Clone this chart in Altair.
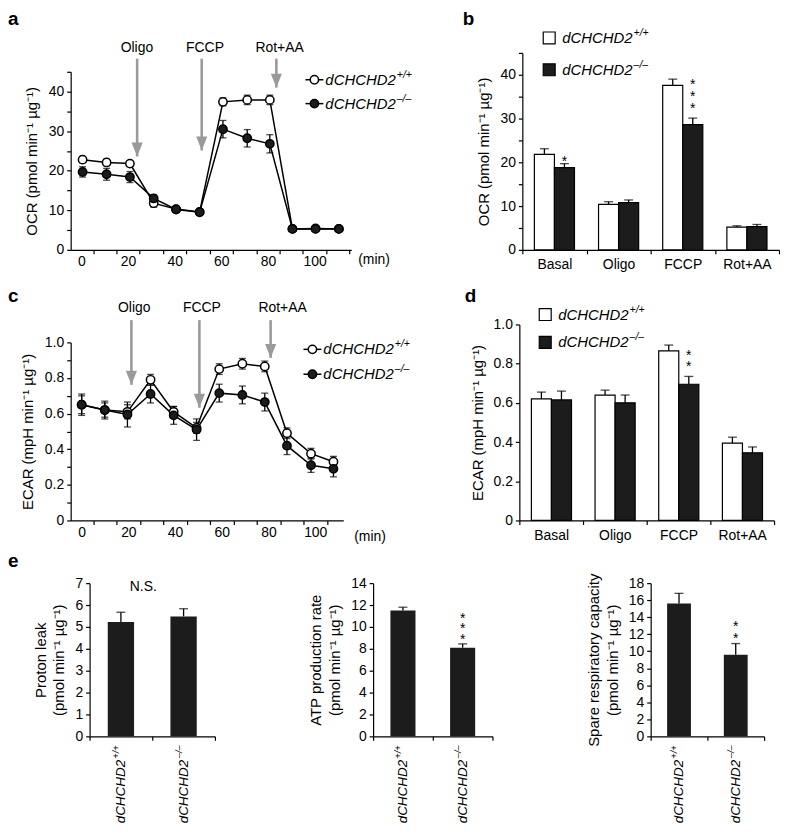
import altair as alt
import pandas as pd

FONT = "Liberation Sans"
GREY = "#9a9a9a"
DARK = "#1c1c1c"
NAME = "dCHCHD2"
GENO = ["+/+", "–/–"]
HEAD = "M-0.8,-2L0.8,-2L0,0Z"
YT = "pmol min⁻¹ µg⁻¹"
LFS = 14   # tick label size
TFS = 15   # axis title size

# ---------------- panel a: OCR time course ----------------
time_a = [0.5, 10.8, 20.8, 31.0, 40.6, 50.7, 60.7, 71.1, 80.8, 90.5, 100.4, 110.4]
ocr_wt = [22.8, 22.1, 21.8, 11.8, 10.3, 9.6, 37.4, 37.9, 37.9, 5.3, 5.4, 5.3]
ocr_wt_err = [0.8, 0.8, 0.7, 1.0, 0.5, 0.5, 1.0, 1.2, 1.2, 0.5, 0.4, 0.4]
ocr_ko = [19.7, 19.1, 18.4, 13.0, 10.2, 9.5, 30.5, 28.2, 26.8, 5.3, 5.3, 5.3]
ocr_ko_err = [1.3, 1.5, 1.4, 0.9, 0.5, 0.6, 2.2, 2.2, 2.3, 0.4, 0.4, 0.4]
injections = ["Oligo", "FCCP", "Rot+AA"]
inj_time_a = [23.9, 51.6, 83.6]
inj_label_time_a = [23.8, 53.0, 85.0]
inj_tip_a = [23.6, 25.1, 41.0]
inj_top_a = 48.3
inj_label_y_a = 51.1

# ---------------- panel c: ECAR time course ----------------
time_c = [0.0, 9.9, 19.6, 29.5, 39.4, 49.2, 58.9, 68.8, 78.4, 87.9, 98.2, 107.8]
ecar_wt = [0.65, 0.62, 0.61, 0.79, 0.61, 0.52, 0.85, 0.88, 0.865, 0.49, 0.375, 0.33]
ecar_wt_err = [0.05, 0.04, 0.04, 0.03, 0.03, 0.03, 0.03, 0.03, 0.03, 0.03, 0.03, 0.03]
ecar_ko = [0.65, 0.62, 0.595, 0.71, 0.59, 0.51, 0.715, 0.705, 0.665, 0.42, 0.31, 0.29]
ecar_ko_err = [0.06, 0.05, 0.07, 0.05, 0.05, 0.06, 0.05, 0.05, 0.05, 0.05, 0.04, 0.045]
inj_time_c = [21.3, 50.4, 80.9]
inj_label_time_c = [22.5, 51.5, 86.0]
inj_tip_c = [0.762, 0.633, 0.913]
inj_top_c = 1.125
inj_label_y_c = 1.192

# ---------------- panels b, d: bars ----------------
phases = ["Basal", "Oligo", "FCCP", "Rot+AA"]
ocr_bar_wt = [21.8, 10.4, 37.6, 5.2]
ocr_bar_wt_err = [1.3, 0.6, 1.4, 0.3]
ocr_bar_ko = [18.8, 10.8, 28.6, 5.3]
ocr_bar_ko_err = [0.9, 0.6, 1.5, 0.5]
ecar_bar_wt = [0.62, 0.64, 0.865, 0.395]
ecar_bar_wt_err = [0.035, 0.025, 0.03, 0.03]
ecar_bar_ko = [0.615, 0.60, 0.695, 0.345]
ecar_bar_ko_err = [0.045, 0.04, 0.04, 0.03]

# ---------------- panel e ----------------
proton_leak = [5.22, 5.48]
proton_leak_err = [0.45, 0.35]
atp_rate = [11.5, 8.1]
atp_rate_err = [0.3, 0.35]
spare_capacity = [15.6, 9.6]
spare_capacity_err = [1.2, 1.3]

ONE = pd.DataFrame({"k": [0]})

AX = dict(labelFontSize=LFS, titleFontSize=TFS, labelFont=FONT, titleFont=FONT,
          titleFontWeight="normal", grid=False, labelOverlap=False, labelFlush=False)


def text_at(x, y, text, size=14, align="left", baseline="middle", **kw):
    return alt.Chart(ONE).mark_text(
        text=text, font=FONT, fontSize=size, align=align, baseline=baseline,
        color="black", **kw
    ).encode(x=alt.value(x), y=alt.value(y))


def geno_text(x, y, sup, size=15):
    w = 4.722 * size
    return [
        text_at(x, y, NAME, size, fontStyle="italic"),
        text_at(x + w + 1, y - 5, sup, round(size * 0.7, 1), fontStyle="italic"),
    ]


def letter(x, y, ch):
    return text_at(x, y, ch, 19, baseline="top", fontWeight="bold")


def spacer(y):
    return text_at(0, y, "x", 10, baseline="top", opacity=0)


def star_layers(base, X, XO, Y, dys):
    out = []
    for dy in dys:
        enc = dict(x=X, y=Y)
        if XO is not None:
            enc["xOffset"] = XO
        out.append(base.mark_text(text="*", font=FONT, fontSize=14, align="center",
                                  baseline="middle", dy=dy, color="black").encode(**enc))
    return out


def line_panel(times, wt, wt_err, ko, ko_err, *, width, height, xdom, xmax_tick,
               ydom, yrange, yvals, yexpr, ytitle, inj_t, inj_lt, inj_tip,
               inj_top, inj_ly, leg_x, leg_y, min_xy, let, extra=()):
    n = len(times)
    df = pd.DataFrame({
        "time": times + times,
        "value": wt + ko,
        "err": wt_err + ko_err,
        "geno": [GENO[0]] * n + [GENO[1]] * n,
    })
    df["lo"] = df["value"] - df["err"]
    df["hi"] = df["value"] + df["err"]
    xs = alt.Scale(domain=xdom, nice=False, zero=False)
    ys = alt.Scale(domain=ydom, range=yrange, nice=False, zero=False)
    xaxis = alt.Axis(
        values=list(range(0, xmax_tick + 1, 5)),
        labelExpr="datum.value % 20 === 0 ? datum.label : ''",
        tickOpacity={"condition": {"test": "datum.value % 10 === 5", "value": 1}, "value": 0},
        title=None, labelPadding=1, **AX,
    )
    yaxis = alt.Axis(values=yvals, labelExpr=yexpr, title=ytitle, titlePadding=9, **AX)

    def X(f):
        return alt.X(f, scale=xs, axis=xaxis)

    def Y(f):
        return alt.Y(f, scale=ys, axis=yaxis)

    base = alt.Chart(df)
    lines = base.mark_line(color="black", strokeWidth=1.5).encode(
        x=X("time:Q"), y=Y("value:Q"), detail="geno:N", order="time:Q")
    err = base.mark_rule(color="black", strokeWidth=1.3).encode(
        x=X("time:Q"), y=Y("lo:Q"), y2="hi:Q")
    cap_lo = base.mark_tick(orient="horizontal", color="black", size=7, thickness=1.3).encode(
        x=X("time:Q"), y=Y("lo:Q"))
    cap_hi = base.mark_tick(orient="horizontal", color="black", size=7, thickness=1.3).encode(
        x=X("time:Q"), y=Y("hi:Q"))
    pts_wt = base.transform_filter(alt.datum.geno == GENO[0]).mark_point(
        shape="circle", filled=True, fill="white", stroke="black", strokeWidth=1.5,
        size=70, opacity=1).encode(x=X("time:Q"), y=Y("value:Q"))
    pts_ko = base.transform_filter(alt.datum.geno == GENO[1]).mark_point(
        shape="circle", filled=True, fill=DARK, stroke="black", strokeWidth=1.5,
        size=70, opacity=1).encode(x=X("time:Q"), y=Y("value:Q"))

    arr = pd.DataFrame({"label": injections, "t": inj_t, "lt": inj_lt, "tip": inj_tip})
    arr["top"] = inj_top
    arr["ly"] = inj_ly
    ab = alt.Chart(arr)
    a_rule = ab.mark_rule(color=GREY, strokeWidth=2.6).encode(
        x=X("t:Q"), y=Y("top:Q"), y2="tip:Q")
    a_head = ab.mark_point(shape=HEAD, size=196, filled=True, color=GREY, opacity=1,
                           strokeWidth=0).encode(x=X("t:Q"), y=Y("tip:Q"))
    a_lab = ab.mark_text(font=FONT, fontSize=14, align="center", baseline="middle",
                         color="black").encode(x=X("lt:Q"), y=Y("ly:Q"), text="label:N")

    legend = []
    for yy, fill, sup in [(leg_y[0], "white", GENO[0]), (leg_y[1], DARK, GENO[1])]:
        legend.append(alt.Chart(ONE).mark_rule(color="black", strokeWidth=1.5).encode(
            x=alt.value(leg_x - 9), x2=alt.value(leg_x + 9), y=alt.value(yy)))
        legend.append(alt.Chart(ONE).mark_point(
            shape="circle", filled=True, fill=fill, stroke="black", strokeWidth=1.5,
            size=70, opacity=1).encode(x=alt.value(leg_x), y=alt.value(yy)))
        legend += geno_text(leg_x + 11, yy, sup)

    layers = [lines, err, cap_lo, cap_hi, pts_wt, pts_ko, a_rule, a_head, a_lab] + legend + [
        text_at(min_xy[0], min_xy[1], "(min)"),
        letter(let[0], let[1], let[2]),
    ] + list(extra)
    return alt.layer(*layers).properties(width=width, height=height)


def bar_panel(wt, wt_err, ko, ko_err, *, width, height, ydom, yvals, yexpr, ytitle,
              stars, leg_x, leg_y, let):
    k = len(phases)
    df = pd.DataFrame({
        "phase": phases * 2,
        "geno": [GENO[0]] * k + [GENO[1]] * k,
        "value": wt + ko,
        "err": wt_err + ko_err,
    })
    df["hi"] = df["value"] + df["err"]
    xsc = alt.Scale(domain=phases, paddingInner=0, paddingOuter=0)
    osc = alt.Scale(domain=GENO, paddingInner=0, paddingOuter=0.6)
    ys = alt.Scale(domain=ydom, nice=False, zero=True)
    xaxis = alt.Axis(tickBand="extent", labelAngle=0, title=None, labelPadding=4, **AX)
    yaxis = alt.Axis(values=yvals, labelExpr=yexpr, title=ytitle, titlePadding=8, **AX)
    XO = alt.XOffset("geno:N", scale=osc)
    Xc = alt.X("phase:N", scale=xsc, axis=xaxis)

    def Y(f):
        return alt.Y(f, scale=ys, axis=yaxis, stack=None)

    base = alt.Chart(df)
    bars = base.mark_bar(stroke="black", strokeWidth=1.2).encode(
        x=Xc, xOffset=XO, y=Y("value:Q"),
        fill=alt.Fill("geno:N", scale=alt.Scale(domain=GENO, range=["white", DARK]), legend=None))
    err = base.mark_rule(color="black", strokeWidth=1.3).encode(
        x=Xc, xOffset=XO, y=Y("value:Q"), y2="hi:Q")
    cap = base.mark_tick(orient="horizontal", color="black", size=9, thickness=1.3).encode(
        x=Xc, xOffset=XO, y=Y("hi:Q"))
    layers = [bars, err, cap]
    for ph, dys in stars:
        sb = base.transform_filter((alt.datum.phase == ph) & (alt.datum.geno == GENO[1]))
        layers += star_layers(sb, Xc, XO, Y("hi:Q"), dys)
    for yy, fill, sup in [(leg_y[0], "white", GENO[0]), (leg_y[1], DARK, GENO[1])]:
        layers.append(alt.Chart(ONE).mark_point(
            shape="square", filled=True, fill=fill, stroke="black", strokeWidth=1.2,
            size=144, opacity=1).encode(x=alt.value(leg_x), y=alt.value(yy)))
        layers += geno_text(leg_x + 13, yy, sup)
    layers.append(letter(let[0], let[1], let[2]))
    return alt.layer(*layers).properties(width=width, height=height)


def e_panel(values, errs, *, width, height, xrange, ymax, ystep, ytitle, yoffset=0,
            stars=None, ns=None, let=None):
    df = pd.DataFrame({"geno": GENO, "value": values, "err": errs})
    df["hi"] = df["value"] + df["err"]
    skw = dict(domain=GENO, paddingInner=0, paddingOuter=0)
    if xrange is not None:
        skw["range"] = xrange
    xsc = alt.Scale(**skw)
    ys = alt.Scale(domain=[0, ymax], nice=False, zero=True)
    xaxis = alt.Axis(tickBand="extent", labels=False, title=None, **AX)
    yaxis = alt.Axis(values=list(range(0, ymax + 1, ystep)), title=ytitle,
                     titleLineHeight=19, titlePadding=8, offset=yoffset, **AX)
    Xc = alt.X("geno:N", scale=xsc, axis=xaxis)

    def Y(f):
        return alt.Y(f, scale=ys, axis=yaxis)

    base = alt.Chart(df)
    bars = base.mark_bar(color=DARK, width=alt.RelativeBandSize(0.42)).encode(
        x=Xc, y=Y("value:Q"))
    err = base.mark_rule(color="black", strokeWidth=1.3).encode(
        x=Xc, y=Y("value:Q"), y2="hi:Q")
    cap = base.mark_tick(orient="horizontal", color="black", size=9, thickness=1.3).encode(
        x=Xc, y=Y("hi:Q"))
    fs = 13.5
    supw = 0.7 * fs * 1.446
    lab_main = base.mark_text(text=NAME, angle=270, align="right", baseline="middle",
                              fontStyle="italic", fontSize=fs, font=FONT,
                              dx=-(supw + 1), color="black").encode(
        x=Xc, y=alt.value(height + 9))
    lab_sup = base.mark_text(angle=270, align="right", baseline="middle",
                             fontStyle="italic", fontSize=round(0.7 * fs, 1), font=FONT,
                             dy=-5, color="black").encode(
        x=Xc, y=alt.value(height + 9), text="geno:N")
    layers = [bars, err, cap, lab_main, lab_sup]
    if stars:
        sb = base.transform_filter(alt.datum.geno == GENO[1])
        layers += star_layers(sb, Xc, None, Y("hi:Q"), stars)
    if ns:
        layers.append(text_at(ns[0], ns[1], "N.S.", 14, align="center"))
    if let:
        layers.append(letter(let[0], let[1], let[2]))
    return alt.layer(*layers).properties(width=width, height=height)


ocr_vals = list(range(0, 46, 5))
ocr_expr = "datum.value % 10 === 0 ? datum.label : ''"
ecar_vals = [round(i * 0.1, 1) for i in range(11)]
ecar_expr = ("round(datum.value * 10) % 2 === 0 ? "
             "(datum.value === 0 ? '0' : format(datum.value, '.1f')) : ''")
ecar_bar_vals = [0, 0.2, 0.4, 0.6, 0.8, 1.0]
ecar_bar_expr = "datum.value === 0 ? '0' : format(datum.value, '.1f')"

panel_a = line_panel(
    time_a, ocr_wt, ocr_wt_err, ocr_ko, ocr_ko_err,
    width=282, height=198, xdom=[-4.6, 115.7], xmax_tick=115,
    ydom=[0, 45], yrange=[198, 19], yvals=ocr_vals, yexpr=ocr_expr,
    ytitle=f"OCR ({YT})",
    inj_t=inj_time_a, inj_lt=inj_label_time_a, inj_tip=inj_tip_a,
    inj_top=inj_top_a, inj_ly=inj_label_y_a,
    leg_x=245, leg_y=[27, 51], min_xy=(289, 208), let=(-63, -43, "a"))

panel_b = bar_panel(
    ocr_bar_wt, ocr_bar_wt_err, ocr_bar_ko, ocr_bar_ko_err,
    width=258, height=198, ydom=[0, 45], yvals=ocr_vals, yexpr=ocr_expr,
    ytitle=f"OCR ({YT})",
    stars=[("Basal", [-2]), ("FCCP", [-9, -21, -33])],
    leg_x=27, leg_y=[-15, 17], let=(-60, -43, "b"))

panel_c = line_panel(
    time_c, ecar_wt, ecar_wt_err, ecar_ko, ecar_ko_err,
    width=274, height=197, xdom=[-4.7, 112], xmax_tick=110,
    ydom=[0, 1], yrange=[197, 18], yvals=ecar_vals, yexpr=ecar_expr,
    ytitle="ECAR (mpH min⁻¹ µg⁻¹)",
    inj_t=inj_time_c, inj_lt=inj_label_time_c, inj_tip=inj_tip_c,
    inj_top=inj_top_c, inj_ly=inj_label_y_c,
    leg_x=243, leg_y=[25, 50], min_xy=(285, 214), let=(-63, -38, "c"),
    extra=[spacer(-45)])

panel_d = bar_panel(
    ecar_bar_wt, ecar_bar_wt_err, ecar_bar_ko, ecar_bar_ko_err,
    width=256, height=197, ydom=[0, 1], yvals=ecar_bar_vals, yexpr=ecar_bar_expr,
    ytitle="ECAR (mpH min⁻¹ µg⁻¹)",
    stars=[("FCCP", [-9, -21])],
    leg_x=26, leg_y=[-10, 18], let=(-55, -38, "d"))

panel_e1 = e_panel(proton_leak, proton_leak_err, width=145, height=154, xrange=[19, 145],
                   ymax=7, ystep=1, ytitle=["Proton leak", f"({YT})"], yoffset=-19,
                   ns=(73, 4), let=(-63, -31, "e"))
panel_e2 = e_panel(atp_rate, atp_rate_err, width=120, height=154, xrange=None,
                   ymax=14, ystep=2, ytitle=["ATP production rate", f"({YT})"],
                   stars=[-4, -15, -25])
panel_e3 = e_panel(spare_capacity, spare_capacity_err, width=114, height=154, xrange=None,
                   ymax=18, ystep=2, ytitle=["Spare respiratory capacity", f"({YT})"],
                   stars=[-5, -17])

row1 = alt.hconcat(panel_a, panel_b, spacing=172, bounds="flush")
row2 = alt.hconcat(panel_c, panel_d, spacing=177, bounds="flush")
row3 = alt.hconcat(panel_e1, panel_e2, panel_e3, spacing=159, bounds="flush")

chart = alt.vconcat(row1, row2, row3, spacing=8).properties(padding=0).configure(
    font=FONT).configure_view(stroke=None).configure_axis(
    domainColor="black", domainWidth=1.2, tickColor="black", tickWidth=1.2, tickSize=4,
    labelColor="black", titleColor="black", labelPadding=3,
)

chart.save("out.html", embed_options={"renderer": "svg", "actions": False})
